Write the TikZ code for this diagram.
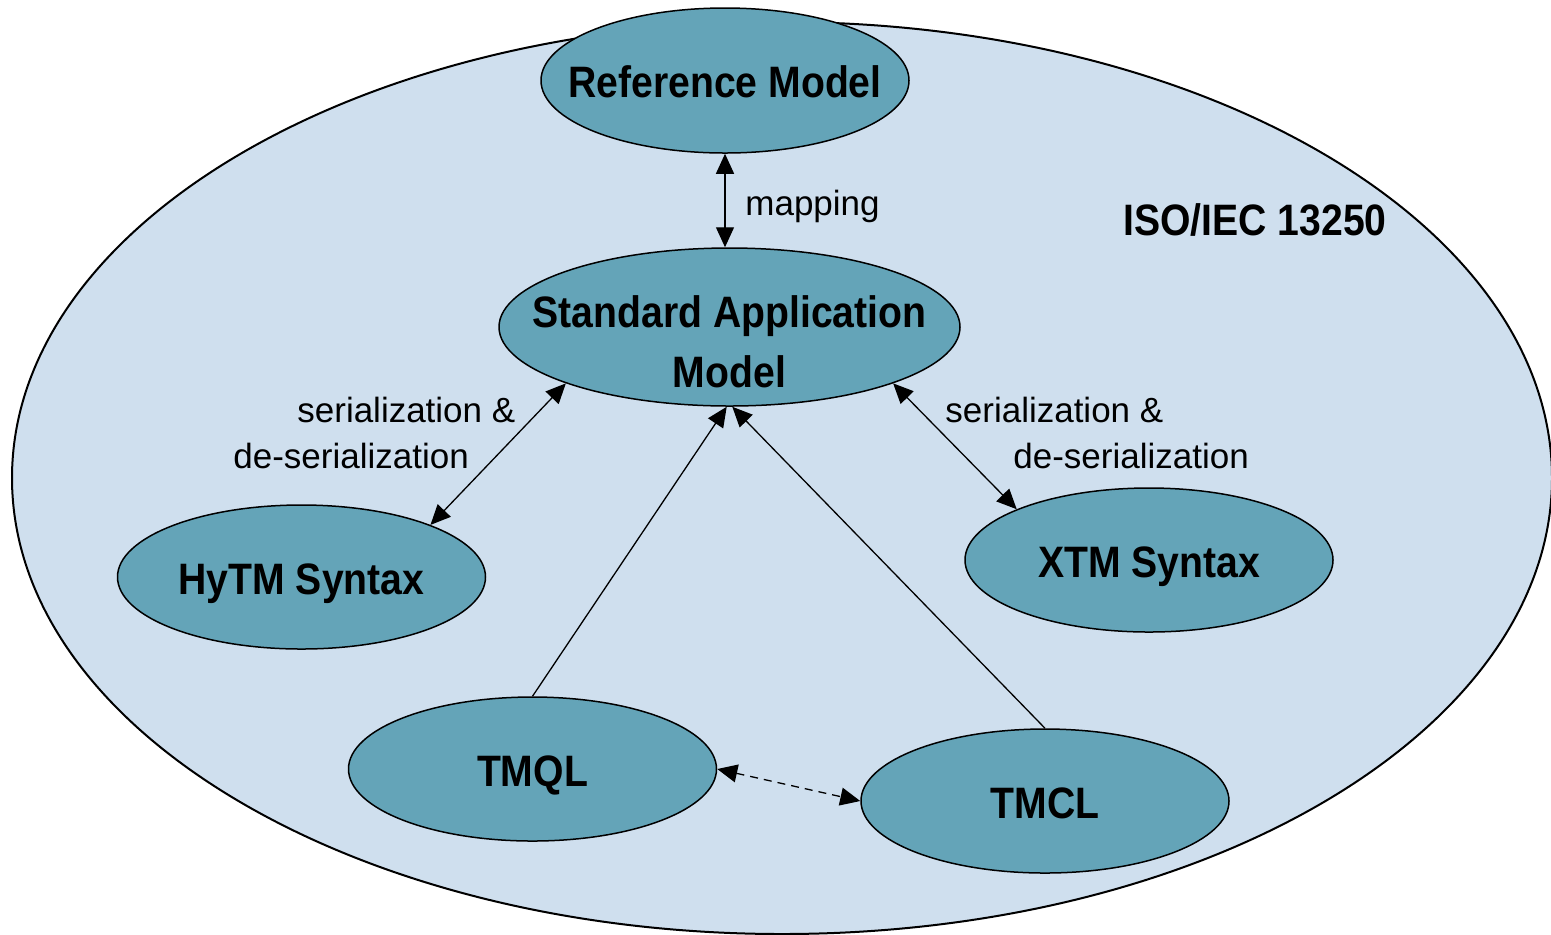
\documentclass[tikz,border=0pt]{standalone}
\usepackage{fontspec}
\setmainfont{Liberation Sans}
\newfontfamily\headfont{Liberation Sans}[FakeStretch=0.89]
\usetikzlibrary{shapes.geometric,arrows.meta}
\definecolor{outerfill}{RGB}{207,223,238}
\definecolor{nodefill}{RGB}{100,164,184}
% text of a model node takes no width, so the ellipse keeps its given size
\newcommand\blobtext[1]{\makebox[0pt]{#1}}
\begin{document}
\begin{tikzpicture}[x=0.5pt,y=-0.5pt,
  model/.style={ellipse, draw=black, line width=0.75pt, fill=nodefill, inner sep=0pt,
    minimum width=184pt, minimum height=72pt, text height=17pt, text depth=0pt,
    font=\headfont\bfseries\fontsize{22}{30}\selectfont},
  lbl/.style={inner sep=0pt, font=\fontsize{17.5}{21}\selectfont},
  tipshape/.tip={Triangle[length=10pt,width=9pt]},
  both/.style={line width=0.65pt, tipshape-tipshape},
  toward/.style={line width=0.65pt, -tipshape},
  weak/.style={line width=0.65pt, tipshape-tipshape, dash pattern=on 4pt off 3pt}
]
\useasboundingbox (0,0) rectangle (1551,934);
\clip (0,0) rectangle (1551,934);

% the ISO/IEC 13250 family as a whole
\filldraw[fill=outerfill, draw=black, line width=1pt]
  (782,478) ellipse [x radius=385pt, y radius=228pt];
\node[anchor=base west, inner sep=0pt, font=\headfont\bfseries\fontsize{22}{26}\selectfont]
  (iso) at (1123,235) {ISO/IEC 13250};

% the parts of the standard
\node[model, minimum height=72.5pt] (rm) at (725,80.5) {\blobtext{Reference Model}};
\node[model, minimum width=230.5pt, minimum height=79pt, text height=0.5pt]
  (sam) at (729.5,327)
  {\blobtext{\begin{tabular}[t]{@{}c@{}}Standard Application\\Model\end{tabular}}};
\node[model] (hytm) at (301.5,577) {\blobtext{HyTM Syntax}};
\node[model] (xtm) at (1149,560) {\blobtext{XTM Syntax}};
\node[model] (tmql) at (532.5,769) {\blobtext{TMQL}};
\node[model] (tmcl) at (1045,801) {\blobtext{TMCL}};

% relations between the parts
\draw[both] (rm.south) -- (rm.south |- sam.north);
\node[lbl, anchor=base west] (maplbl) at (745,215) {mapping};

\draw[both] (hytm.22) -- (sam.199);
\node[lbl, anchor=base west] (serl1) at (297,422) {serialization \&};
\node[lbl, anchor=base west] (serl2) at (233,468) {de-serialization};

\draw[both] (sam.341) -- (xtm.159);
\node[lbl, anchor=base west] (serr1) at (945,422) {serialization \&};
\node[lbl, anchor=base west] (serr2) at (1013,468) {de-serialization};

\draw[toward] (tmql.north) -- (sam.268);
\draw[toward] (tmcl.north) -- (sam.272);
\draw[weak] (tmql.east) -- (tmcl.west);
\end{tikzpicture}
\end{document}
